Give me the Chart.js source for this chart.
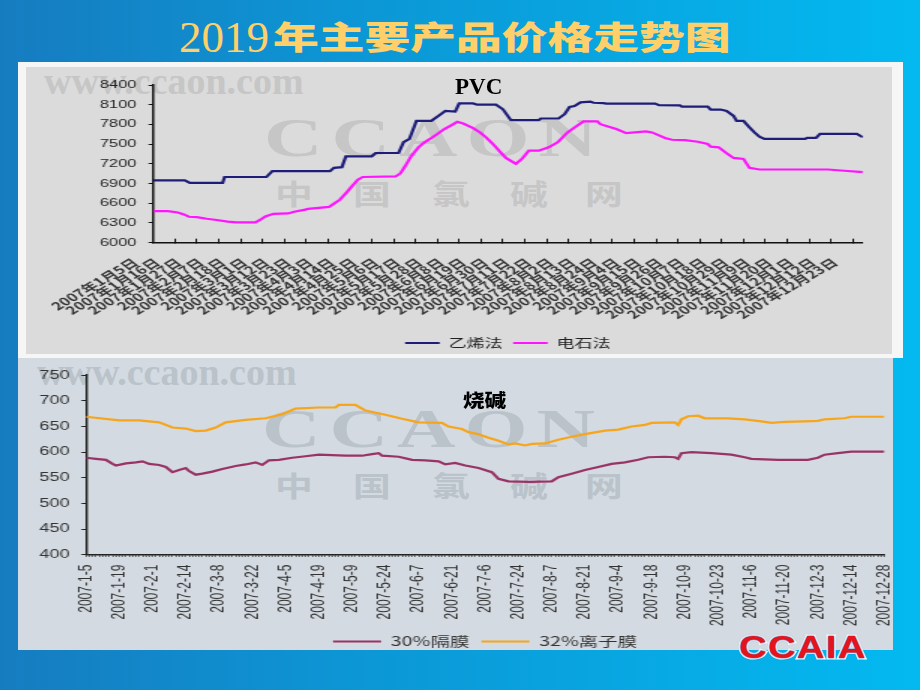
<!DOCTYPE html>
<html>
<head>
<meta charset="utf-8">
<script src="https://cdn.jsdelivr.net/npm/chart.js@4.4.1/dist/chart.umd.min.js"></script>
<style>
html, body { margin: 0; padding: 0; }
body {
    width: 920px; height: 690px; position: relative; overflow: hidden;
    background: linear-gradient(90deg, #167cc0 0%, #0c97d6 40%, #03b9f0 100%);
    font-family: 'Noto Sans CJK SC', sans-serif;
}
.abs { position: absolute; white-space: nowrap; }
.title-num { left: 179px; top: 15px; font: 45px/1 'Liberation Serif', serif; color: #ffd06a; }
.title-cn { left: 273px; top: 19px; font: 900 32px/1 'Noto Sans CJK SC', sans-serif; color: #ffd06a;
    transform: scaleX(1.43); transform-origin: 0 0; }
.frame { left: 18px; top: 62px; width: 885px; height: 296px; background: #f6f6f6; }
.panel-top { left: 26px; top: 67px; width: 866px; height: 287px; background: #dbdbdb; overflow: hidden; }
.panel-bot { left: 18px; top: 358px; width: 875px; height: 292px; background: #d3dae1; overflow: hidden; }
.wm-www { font: bold 38px/1 'Liberation Serif', serif; }
.wm-big { font: bold 54px/1 'Liberation Serif', serif; letter-spacing: 6px; transform: scaleX(1.5); transform-origin: 0 0; }
.wm-cn { font: bold 28px/1 'Noto Sans CJK SC', sans-serif; transform: scaleX(1.35); transform-origin: 0 0; }
.panel-top .wm { color: #c6c6c6; }
.panel-bot .wm { color: #bac2ca; }
.stretch { position: absolute; transform: scaleX(1.5); transform-origin: 0 0; }
.label-pvc { left: 455px; top: 75px; font: bold 23px/1 'Liberation Serif', serif; color: #000; }
.label-naoh { left: 463px; top: 390px; font: 900 18px/1 'Noto Sans CJK SC', sans-serif; color: #000;
    transform: scaleX(1.2); transform-origin: 0 0; }
.logo { left: 739px; top: 631px; font: bold 32px/1 'Liberation Sans', sans-serif; color: #e5141c;
    letter-spacing: 1px; transform: scaleX(1.2); transform-origin: 0 0;
    -webkit-text-stroke: 3px #ffffff; paint-order: stroke fill; text-shadow: 0 0 2px #1d3f8f; }
</style>
</head>
<body>
<div class="abs title-num">2019</div>
<div class="abs title-cn">年主要产品价格走势图</div>

<div class="abs frame"></div>
<div class="abs panel-top">
    <div class="abs wm wm-www" style="left:18px; top:-5px;">www.ccaon.com</div>
    <div class="abs wm wm-big" style="left:238px; top:44px;">CCAON</div>
    <div class="abs wm wm-cn" style="left:249px; top:112px;">中</div>
    <div class="abs wm wm-cn" style="left:327px; top:112px;">国</div>
    <div class="abs wm wm-cn" style="left:406px; top:112px;">氯</div>
    <div class="abs wm wm-cn" style="left:484px; top:112px;">碱</div>
    <div class="abs wm wm-cn" style="left:559px; top:112px;">网</div>
</div>
<div class="abs panel-bot">
    <div class="abs wm wm-www" style="left:19px; top:-5px;">www.ccaon.com</div>
    <div class="abs wm wm-big" style="left:244px; top:44px;">CCAON</div>
    <div class="abs wm wm-cn" style="left:257px; top:113px;">中</div>
    <div class="abs wm wm-cn" style="left:335px; top:113px;">国</div>
    <div class="abs wm wm-cn" style="left:414px; top:113px;">氯</div>
    <div class="abs wm wm-cn" style="left:492px; top:113px;">碱</div>
    <div class="abs wm wm-cn" style="left:567px; top:113px;">网</div>
</div>

<div class="stretch" style="left:26px; top:67px;"><canvas id="pvcChart" width="577" height="292"></canvas></div>
<div class="stretch" style="left:18px; top:360px;"><canvas id="causticChart" width="600" height="298"></canvas></div>

<div class="abs label-pvc">PVC</div>
<div class="abs label-naoh">烧碱</div>
<div class="abs logo">CCAIA</div>

<script>
// PVC: x = days from 2007-1-5
var pvcTickLabels = ['2007年1月5日', '2007年1月16日', '2007年1月27日', '2007年2月7日', '2007年2月18日',
    '2007年3月1日', '2007年3月12日', '2007年3月23日', '2007年4月3日', '2007年4月14日', '2007年4月25日',
    '2007年5月6日', '2007年5月17日', '2007年5月28日', '2007年6月8日', '2007年6月19日', '2007年6月30日',
    '2007年7月11日', '2007年7月22日', '2007年8月2日', '2007年8月13日', '2007年8月24日', '2007年9月4日',
    '2007年9月15日', '2007年9月26日', '2007年10月7日', '2007年10月18日', '2007年10月29日', '2007年11月9日',
    '2007年11月20日', '2007年12月1日', '2007年12月12日', '2007年12月23日'];

var ethyleneDay = [0, 16, 18.5, 35, 36, 57, 60, 89, 91, 95, 97, 110, 112, 123.5, 126, 129, 132.5, 140, 144, 147,
    152, 154, 161, 163, 172.5, 176, 180, 194, 195, 204, 207, 209.5, 212, 215, 220, 221.5, 226.5, 228, 252.5, 254.5,
    265, 266, 279, 280.5, 285.5, 288.5, 292, 293.5, 297, 300, 302.5, 305, 307.5, 328, 329, 333.5, 335.5, 354, 357];
var ethyleneValue = [6950, 6950, 6910, 6910, 7000, 7000, 7090, 7090, 7140, 7150, 7315, 7315, 7365, 7365, 7530, 7580, 7855, 7855, 7940, 8005,
    7995, 8120, 8120, 8100, 8100, 8030, 7865, 7865, 7890, 7890, 7955, 8065, 8080, 8135, 8147, 8130, 8125, 8117, 8117, 8092,
    8090, 8071, 8071, 8026, 8026, 8006, 7930, 7855, 7855, 7755, 7680, 7615, 7580, 7580, 7595, 7595, 7655, 7655, 7605];

var carbideDay = [0, 7.5, 12.5, 15.5, 18, 22, 27, 32, 37.5, 42, 51.5, 54, 56.5, 60.5, 68, 71, 76, 78, 88.5, 91,
    94, 97.5, 100, 103, 105.5, 122, 124.5, 127, 130, 133.5, 136.5, 140, 143, 146.5, 149.5, 153, 156, 161, 164.5, 167.5,
    171, 174, 177.5, 182.5, 185.5, 189, 194, 199, 203.5, 208.5, 212, 216.5, 223.5, 225, 233, 238, 248, 251, 257.5, 261,
    267.5, 274, 279, 280.5, 284.5, 288.5, 292, 297, 300, 305, 339.5, 346, 357];
var carbideValue = [6480, 6480, 6460, 6430, 6395, 6390, 6365, 6345, 6320, 6310, 6310, 6350, 6400, 6440, 6445, 6470, 6500, 6515, 6544, 6595,
    6655, 6770, 6857, 6958, 7000, 7008, 7058, 7174, 7325, 7451, 7527, 7593, 7653, 7729, 7779, 7840, 7814, 7744, 7678, 7603,
    7502, 7401, 7290, 7200, 7275, 7401, 7401, 7452, 7527, 7678, 7754, 7845, 7845, 7804, 7729, 7668, 7693, 7678, 7593, 7567,
    7562, 7537, 7502, 7462, 7451, 7361, 7290, 7275, 7139, 7114, 7114, 7099, 7074];

// 烧碱: x = trading day index from 2007-1-5
var causticTickLabels = ['2007-1-5', '2007-1-19', '2007-2-1', '2007-2-14', '2007-3-8', '2007-3-22', '2007-4-5',
    '2007-4-19', '2007-5-9', '2007-5-24', '2007-6-7', '2007-6-21', '2007-7-6', '2007-7-24', '2007-8-7', '2007-8-21',
    '2007-9-4', '2007-9-18', '2007-10-9', '2007-10-23', '2007-11-6', '2007-11-20', '2007-12-3', '2007-12-14', '2007-12-28'];

var diaphragmDay = [0, 3, 6, 8, 9, 12, 15, 17, 19, 22, 24, 26, 28, 30, 31, 33, 35, 38, 41, 45,
    48, 51, 53, 55, 58, 62, 66, 70, 74, 78, 83, 86, 88, 89, 94, 98, 102, 106, 108, 111,
    114, 118, 122, 124, 127, 133, 140, 142, 146, 150, 154, 158, 162, 166, 169, 174, 177, 178, 179, 182,
    188, 194, 198, 200, 208, 217, 220, 222, 226, 230, 240];
var diaphragmValue = [589, 587, 585, 577, 574, 578, 580, 582, 577, 575, 571, 561, 565, 569, 563, 556, 558, 562, 567, 573,
    576, 580, 575, 584, 585, 589, 592, 595, 594, 593, 593, 596, 598, 593, 591, 585, 584, 582, 576, 579,
    574, 569, 561, 548, 543, 542, 543, 551, 558, 565, 571, 577, 580, 585, 590, 591, 590, 587, 598, 600,
    598, 595, 590, 587, 585, 585, 589, 595, 598, 601, 601];

var membraneDay = [0, 10, 16, 22, 26, 30, 33, 36, 39, 42, 48, 54, 59, 63, 70, 75, 76, 81, 84, 90,
    95, 100, 107, 109, 113, 115, 118, 121, 124, 127, 129, 132, 134, 138, 142, 146, 150, 156, 160, 164,
    168, 170, 177, 178, 179, 181, 184, 186, 193, 198, 203, 206, 210, 216, 220, 222, 228, 230, 240];
var membraneValue = [669, 662, 662, 658, 648, 646, 641, 642, 648, 658, 663, 666, 674, 685, 687, 687, 692, 692, 681, 673,
    665, 658, 657, 650, 645, 639, 635, 628, 622, 615, 617, 613, 616, 617, 624, 630, 635, 642, 644, 650,
    653, 657, 658, 653, 664, 670, 671, 666, 666, 664, 660, 657, 659, 660, 661, 664, 666, 669, 669];

function toPoints(xs, ys) {
    return xs.map(function (x, i) { return { x: x, y: ys[i] }; });
}

// legend centred under the plot area, like the original
var legendToPlot = {
    id: 'legendToPlot',
    afterLayout: function (chart) {
        var lg = chart.legend, ca = chart.chartArea;
        lg.left = ca.left;
        lg.right = ca.right;
        lg.width = ca.right - ca.left;
    }
};

Chart.defaults.font.family = "'Liberation Sans', 'Noto Sans CJK SC', sans-serif";

new Chart(document.getElementById('pvcChart'), {
    type: 'line',
    data: {
        datasets: [
            { label: '乙烯法', data: toPoints(ethyleneDay, ethyleneValue), borderColor: '#1e1d7a', backgroundColor: '#1e1d7a',
              borderWidth: 2.2, pointRadius: 0, tension: 0 },
            { label: '电石法', data: toPoints(carbideDay, carbideValue), borderColor: '#ff14ff', backgroundColor: '#ff14ff',
              borderWidth: 2.2, pointRadius: 0, tension: 0 }
        ]
    },
    options: {
        responsive: false,
        animation: false,
        layout: { padding: { top: 18, right: 8, left: 0, bottom: 0 } },
        scales: {
            x: {
                type: 'linear', min: 0, max: 357,
                afterBuildTicks: function (s) { s.ticks = pvcTickLabels.map(function (t, i) { return { value: i * 11 }; }); },
                afterFit: function (s) { s.height = 87.3; },
                ticks: {
                    autoSkip: false, minRotation: 41, maxRotation: 41, labelOffset: -12, padding: 17,
                    color: '#333', font: { size: 11, weight: 'bold', family: "'Noto Sans CJK SC', sans-serif" },
                    callback: function (v, i) { return pvcTickLabels[i]; }
                },
                grid: { drawOnChartArea: false, tickLength: -4, color: '#111' },
                border: { color: '#111', width: 1.5 }
            },
            y: {
                min: 6000, max: 8400,
                afterFit: function (s) { s.width = 84.7; },
                ticks: { stepSize: 300, padding: 8, color: '#222', font: { size: 11 }, callback: function (v) { return String(v); } },
                grid: { drawOnChartArea: false, tickLength: 3, color: '#111' },
                border: { color: '#111', width: 1.5 }
            }
        },
        plugins: {
            legend: {
                position: 'bottom',
                labels: { usePointStyle: true, pointStyle: 'line', pointStyleWidth: 23, padding: 7, color: '#222',
                          font: { size: 12, family: "'Noto Sans CJK SC', sans-serif" } }
            },
            tooltip: { enabled: false }
        }
    },
    plugins: [legendToPlot]
});

new Chart(document.getElementById('causticChart'), {
    type: 'line',
    data: {
        datasets: [
            { label: '30%隔膜', data: toPoints(diaphragmDay, diaphragmValue), borderColor: '#993366', backgroundColor: '#993366',
              borderWidth: 2.2, pointRadius: 0, tension: 0 },
            { label: '32%离子膜', data: toPoints(membraneDay, membraneValue), borderColor: '#f7a51a', backgroundColor: '#f7a51a',
              borderWidth: 2.2, pointRadius: 0, tension: 0 }
        ]
    },
    options: {
        responsive: false,
        animation: false,
        layout: { padding: { top: 14.3, right: 20, left: 0, bottom: 0 } },
        scales: {
            x: {
                type: 'linear', min: 0, max: 240,
                afterBuildTicks: function (s) {
                    var t = [];
                    for (var i = 0; i <= 240; i++) t.push({ value: i });
                    s.ticks = t;
                },
                afterFit: function (s) { s.height = 72.3; },
                ticks: {
                    autoSkip: false, minRotation: 90, maxRotation: 90, padding: 8, color: '#333', font: { size: 12 },
                    callback: function (v) { return v % 10 === 0 ? causticTickLabels[v / 10] : ''; }
                },
                grid: { drawOnChartArea: false, tickLength: 2, color: '#333' },
                border: { color: '#222', width: 1.5 }
            },
            y: {
                min: 400, max: 750,
                afterFit: function (s) { s.width = 45.3; },
                ticks: { stepSize: 50, padding: 8, color: '#333', font: { size: 12 }, callback: function (v) { return String(v); } },
                grid: { drawOnChartArea: false, tickLength: 3, color: '#222' },
                border: { color: '#222', width: 1.5 }
            }
        },
        plugins: {
            legend: {
                position: 'bottom',
                labels: { usePointStyle: true, pointStyle: 'line', pointStyleWidth: 32, padding: 8, color: '#333',
                          font: { size: 13, family: "'Noto Sans CJK SC', sans-serif" } }
            },
            tooltip: { enabled: false }
        }
    },
    plugins: [legendToPlot]
});
</script>
</body>
</html>
